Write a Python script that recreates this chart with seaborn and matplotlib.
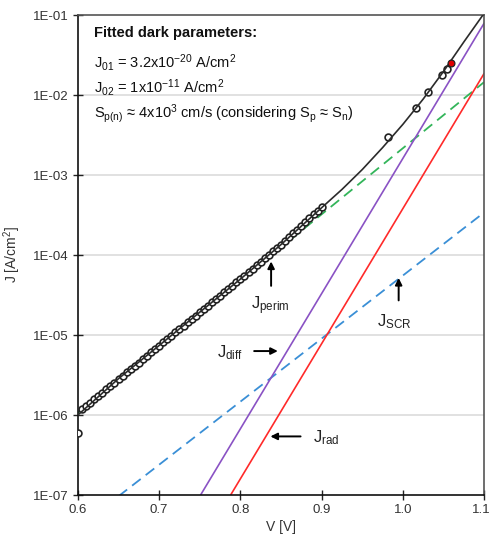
import numpy as np
import pandas as pd
import matplotlib
matplotlib.use("Agg")
import matplotlib.pyplot as plt
import matplotlib.transforms as mtransforms
import seaborn as sns

# measured dark J-V points (V in volts, J in A/cm2)
meas_v = [0.600, 0.605, 0.610, 0.615, 0.620, 0.625, 0.630, 0.635, 0.640, 0.645,
          0.650, 0.655, 0.660, 0.665, 0.670, 0.675, 0.680, 0.685, 0.690, 0.695,
          0.700, 0.705, 0.710, 0.715, 0.720, 0.725, 0.730, 0.735, 0.740, 0.745,
          0.750, 0.755, 0.760, 0.765, 0.770, 0.775, 0.780, 0.785, 0.790, 0.795,
          0.800, 0.805, 0.810, 0.815, 0.820, 0.825, 0.830, 0.835, 0.840, 0.845,
          0.850, 0.855, 0.860, 0.865, 0.870, 0.875, 0.880, 0.885, 0.890, 0.895,
          0.900, 0.982, 1.016, 1.031, 1.048, 1.054]
meas_j = [6.0e-7, 1.18e-6, 1.30e-6, 1.43e-6, 1.57e-6, 1.73e-6, 1.91e-6, 2.10e-6, 2.31e-6, 2.54e-6,
          2.80e-6, 3.08e-6, 3.40e-6, 3.74e-6, 4.12e-6, 4.53e-6, 4.99e-6, 5.49e-6, 6.05e-6, 6.65e-6,
          7.33e-6, 8.07e-6, 8.88e-6, 9.78e-6, 1.08e-5, 1.19e-5, 1.30e-5, 1.44e-5, 1.58e-5, 1.74e-5,
          1.92e-5, 2.11e-5, 2.32e-5, 2.56e-5, 2.81e-5, 3.10e-5, 3.41e-5, 3.76e-5, 4.13e-5, 4.55e-5,
          5.01e-5, 5.53e-5, 6.11e-5, 6.75e-5, 7.45e-5, 8.22e-5, 9.08e-5, 1.00e-4, 1.11e-4, 1.22e-4,
          1.35e-4, 1.50e-4, 1.67e-4, 1.87e-4, 2.08e-4, 2.32e-4, 2.58e-4, 2.88e-4, 3.21e-4, 3.57e-4,
          3.98e-4, 2.95e-3, 6.9e-3, 1.08e-2, 1.78e-2, 2.1e-2]
# highlighted point
mark_v = [1.059]
mark_j = [2.5e-2]

# total fitted curve
fit_v = [0.60, 0.65, 0.70, 0.75, 0.80, 0.85, 0.90, 0.925, 0.95, 0.975,
         1.00, 1.025, 1.05, 1.075, 1.10]
fit_j = [1.0e-6, 2.85e-6, 7.4e-6, 1.93e-5, 5.0e-5, 1.35e-4, 3.9e-4, 6.6e-4, 1.17e-3, 2.2e-3,
         4.3e-3, 8.9e-3, 1.97e-2, 4.6e-2, 1.05e-1]

# components (straight on log scale)
perim_v = [0.60, 1.10]
perim_j = [1.07e-6, 1.45e-2]
scr_v = [0.60, 1.10]
scr_j = [3.9e-8, 3.4e-4]
diff_v = [0.751, 1.10]
diff_j = [1.0e-7, 7.9e-2]
rad_v = [0.788, 1.10]
rad_j = [1.0e-7, 1.86e-2]

ytick_vals = [1e-7, 1e-6, 1e-5, 1e-4, 1e-3, 1e-2, 1e-1]
ytick_labels = ["1E-07", "1E-06", "1E-05", "1E-04", "1E-03", "1E-02", "1E-01"]
xtick_vals = [0.6, 0.7, 0.8, 0.9, 1.0, 1.1]

sns.set_style("white")
plt.rcParams["font.family"] = ["Liberation Sans", "DejaVu Sans"]
plt.rcParams["mathtext.fontset"] = "custom"
plt.rcParams["mathtext.rm"] = "Liberation Sans"
plt.rcParams["mathtext.it"] = "Liberation Sans"

fig = plt.figure(figsize=(4.9, 5.42), dpi=100)
ax = fig.add_axes([0.159, 0.0867, 0.829, 0.8856])
ax.set_yscale("log")

for y in ytick_vals[1:-1]:
    ax.axhline(y, color="#d9d9d9", lw=1.1, zorder=0)

dash = (0, (6, 3.5))
sns.lineplot(x=scr_v, y=scr_j, ax=ax, color="#3a8fd6", lw=1.3, linestyle=dash)
sns.lineplot(x=perim_v, y=perim_j, ax=ax, color="#33b55a", lw=1.3, linestyle=dash)
sns.lineplot(x=diff_v, y=diff_j, ax=ax, color="#8a52c4", lw=1.2)
sns.lineplot(x=rad_v, y=rad_j, ax=ax, color="#ff2a2a", lw=1.2)

meas = pd.DataFrame({"V": meas_v, "J": meas_j})
sns.scatterplot(data=meas, x="V", y="J", ax=ax, marker="o", s=24,
                facecolor="white", edgecolor="#222222", linewidth=1.2, zorder=3)
sns.lineplot(x=fit_v, y=fit_j, ax=ax, color="#2b2b2b", lw=1.2, zorder=4)
sns.scatterplot(x=mark_v, y=mark_j, ax=ax, marker="o", s=24,
                color="#e00000", edgecolor="#222222", linewidth=0.9, zorder=5)

ax.set_xlim(0.6, 1.1)
ax.set_ylim(1e-7, 1e-1)
ax.set_xticks(xtick_vals)
ax.set_xticklabels([f"{v:.1f}" for v in xtick_vals])
ax.set_yticks(ytick_vals)
ax.set_yticklabels(ytick_labels)
ax.yaxis.set_minor_locator(matplotlib.ticker.LogLocator(base=10, subs=np.arange(2, 10)))
ax.yaxis.set_minor_formatter(matplotlib.ticker.NullFormatter())
ax.tick_params(axis="both", which="major", direction="inout", length=7, width=1,
               color="#222222", labelsize=9.5, labelcolor="#333333", pad=3)
ax.tick_params(axis="y", which="minor", direction="in", length=3, width=0.8, color="#222222")
ax.tick_params(axis="x", which="minor", length=0)
ax.tick_params(left=True, bottom=True)

# keep the last x tick label inside the figure
last = ax.get_xticklabels()[-1]
last.set_transform(last.get_transform() + mtransforms.ScaledTranslation(-3 / 100, 0, fig.dpi_scale_trans))

for side in ["left", "bottom"]:
    ax.spines[side].set_color("#111111")
    ax.spines[side].set_linewidth(1.2)
for side in ["top", "right"]:
    ax.spines[side].set_color("#555555")
    ax.spines[side].set_linewidth(1.2)

ax.set_xlabel("V [V]", fontsize=10, color="#333333", labelpad=3)
ax.set_ylabel("J [A/cm$^{2}$]", fontsize=10, color="#333333", labelpad=7)

# parameter box text
tx = 0.04
fs = 10.5
ax.text(tx, 0.962, "Fitted dark parameters:", transform=ax.transAxes, fontsize=fs,
        fontweight="bold", va="center", color="#111111")
ax.text(tx, 0.901, "J$_{01}$ = 3.2x10$^{-20}$ A/cm$^{2}$", transform=ax.transAxes,
        fontsize=fs, va="center", color="#111111")
ax.text(tx, 0.848, "J$_{02}$ = 1x10$^{-11}$ A/cm$^{2}$", transform=ax.transAxes,
        fontsize=fs, va="center", color="#111111")
ax.text(tx, 0.795, "S$_{p(n)}$ \u2248 4x10$^{3}$ cm/s (considering S$_{p}$ \u2248 S$_{n}$)",
        transform=ax.transAxes, fontsize=fs, va="center", color="#111111")

# component labels with arrows
arrow = dict(arrowstyle="-|>", color="black", lw=1.4, mutation_scale=10)
lfs = 12
ax.annotate("", xy=(0.8378, 9.0e-5), xytext=(0.8378, 3.8e-5), arrowprops=arrow)
ax.text(0.8365, 2.3e-5, "J$_{perim}$", fontsize=lfs, ha="center", va="center", color="#222222")
ax.annotate("", xy=(0.9948, 5.6e-5), xytext=(0.9948, 2.5e-5), arrowprops=arrow)
ax.text(0.9895, 1.45e-5, "J$_{SCR}$", fontsize=lfs, ha="center", va="center", color="#222222")
ax.annotate("", xy=(0.8495, 6.3e-6), xytext=(0.8135, 6.3e-6), arrowprops=arrow)
ax.text(0.787, 6.0e-6, "J$_{diff}$", fontsize=lfs, ha="center", va="center", color="#222222")
ax.annotate("", xy=(0.8335, 5.4e-7), xytext=(0.8775, 5.4e-7), arrowprops=arrow)
ax.text(0.906, 5.2e-7, "J$_{rad}$", fontsize=lfs, ha="center", va="center", color="#222222")

fig.savefig("out.png", dpi=100)
